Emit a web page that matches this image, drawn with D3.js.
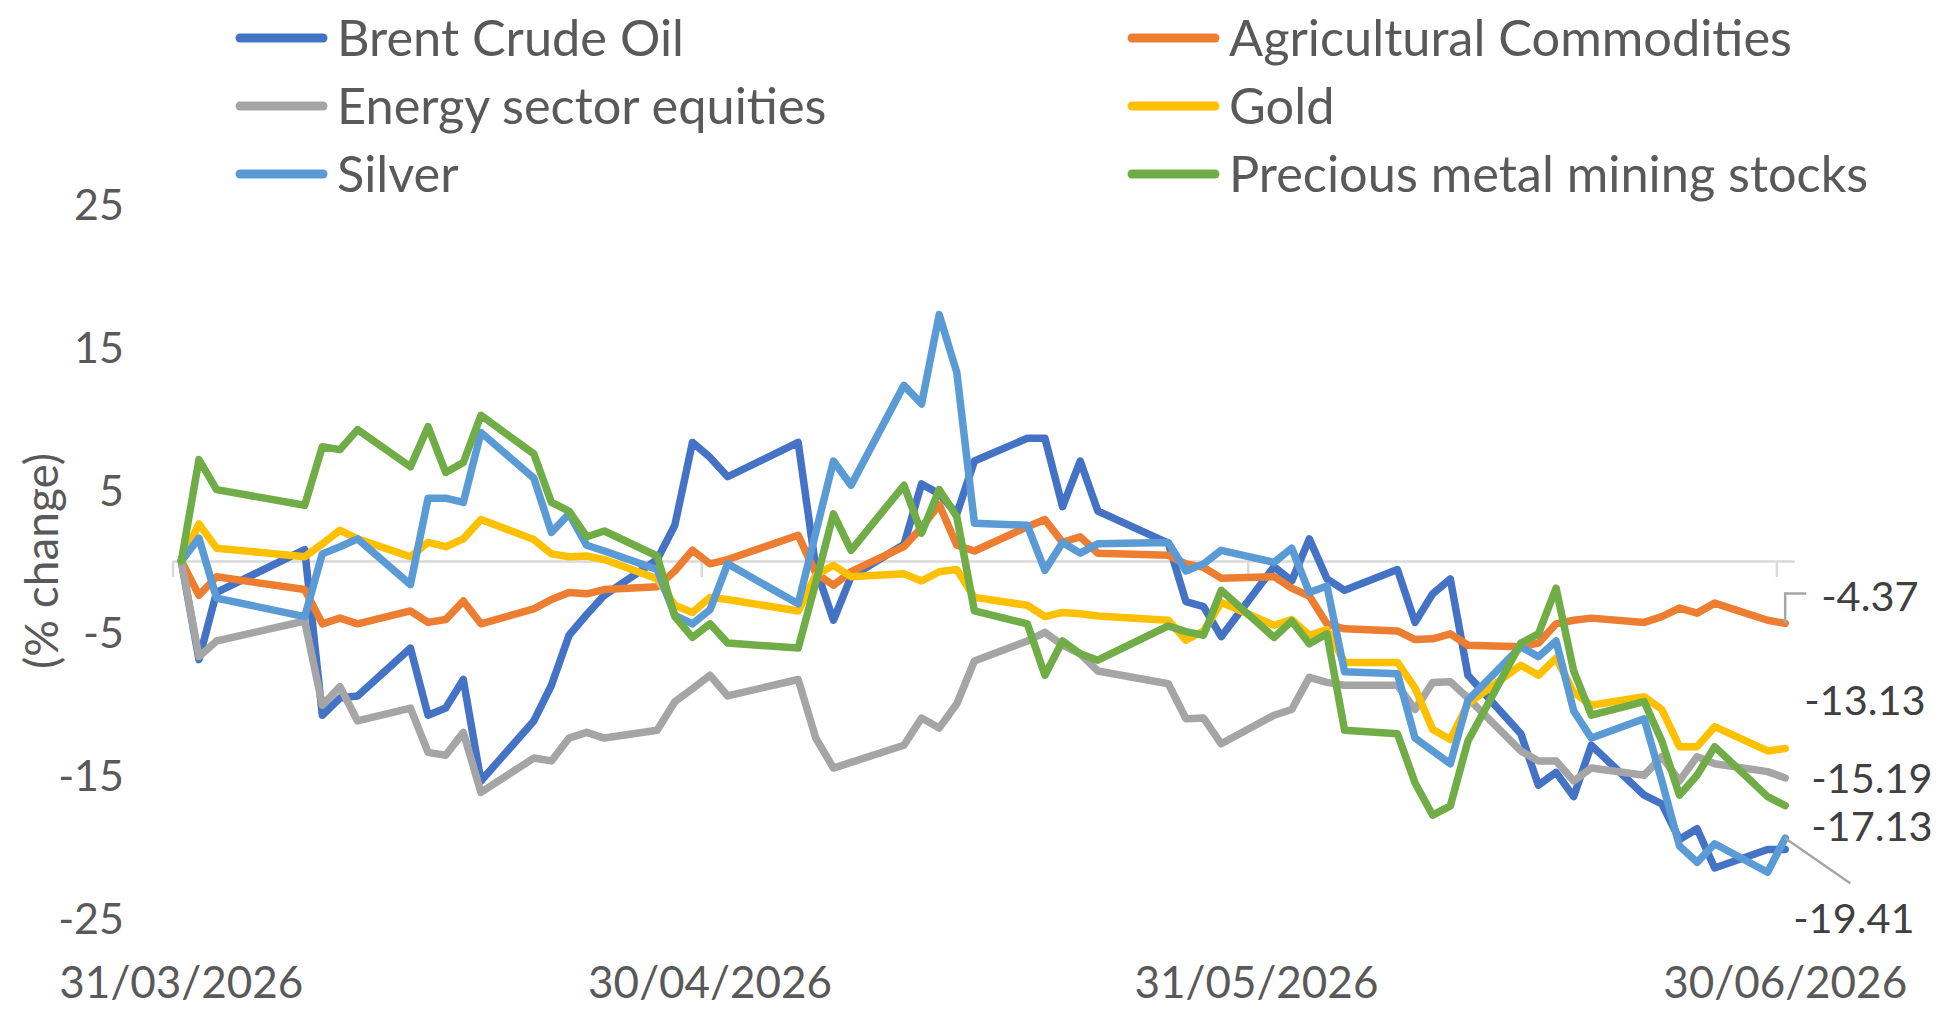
<!DOCTYPE html>
<html><head><meta charset="utf-8">
<script src="https://cdn.jsdelivr.net/npm/d3@7"></script>
<style>
html,body{margin:0;padding:0;background:#fff;}
svg{display:block;}
text{font-family:Lato,"Open Sans",sans-serif;}
</style></head><body>
<svg id="chart" width="1942" height="1031"></svg>
<script>
// ---------- DATA ----------
const dates = ["2026-03-31","2026-04-01","2026-04-02","2026-04-07","2026-04-08","2026-04-09","2026-04-10","2026-04-13","2026-04-14","2026-04-15","2026-04-16","2026-04-17",
"2026-04-20","2026-04-21","2026-04-22","2026-04-23","2026-04-24","2026-04-27","2026-04-28","2026-04-29","2026-04-30","2026-05-01",
"2026-05-05","2026-05-06","2026-05-07","2026-05-08","2026-05-11","2026-05-12","2026-05-13","2026-05-14","2026-05-15","2026-05-18","2026-05-19","2026-05-20","2026-05-21","2026-05-22",
"2026-05-26","2026-05-27","2026-05-28","2026-05-29","2026-06-01","2026-06-02","2026-06-03","2026-06-04","2026-06-05","2026-06-08","2026-06-09","2026-06-10","2026-06-11","2026-06-12",
"2026-06-15","2026-06-16","2026-06-17","2026-06-18","2026-06-19","2026-06-22","2026-06-23","2026-06-24","2026-06-25","2026-06-26","2026-06-29","2026-06-30"];

const brentCrudeOil = [0,-6.9,-2.2,0.8,-10.8,-9.6,-9.45,-6.1,-10.8,-10.3,-8.3,-15.4,
-11.2,-8.7,-5.2,-3.75,-2.4,0.1,2.5,8.3,7.25,5.9,
8.3,-0.5,-4.15,-1.1,1.15,5.4,4.7,3.3,7.0,8.6,8.6,3.8,7.0,3.5,
1.25,-2.85,-3.2,-5.3,-0.4,-1.4,1.55,-1.25,-2.05,-0.6,-4.3,-2.3,-1.25,-8.0,
-12.1,-15.7,-14.8,-16.5,-12.9,-16.4,-17.0,-19.5,-18.75,-21.5,-20.2,-20.2];

const agriculturalCommodities = [0,-2.4,-1.1,-2.0,-4.4,-4.0,-4.4,-3.5,-4.3,-4.1,-2.8,-4.4,
-3.35,-2.7,-2.2,-2.3,-2.0,-1.8,-0.7,0.75,-0.2,0.1,
1.8,-0.85,-1.7,-0.75,1.0,2.35,3.95,1.1,0.7,2.4,2.9,1.3,1.7,0.55,
0.4,-0.2,-0.45,-1.2,-1.1,-1.9,-2.45,-4.4,-4.75,-4.9,-5.5,-5.45,-5.1,-5.9,
-6.0,-5.75,-4.4,-4.15,-4.0,-4.3,-3.9,-3.3,-3.65,-2.95,-4.15,-4.37];

const energySectorEquities = [0,-6.7,-5.6,-4.2,-10.1,-8.8,-11.2,-10.3,-13.4,-13.6,-12.0,-16.2,
-13.8,-14.0,-12.4,-12.0,-12.4,-11.85,-9.85,-8.95,-8.0,-9.45,
-8.3,-12.4,-14.5,-14.1,-12.9,-11.0,-11.7,-10.0,-7.0,-5.6,-5.0,-5.9,-6.5,-7.7,
-8.6,-11.05,-11.0,-12.8,-10.8,-10.4,-8.15,-8.5,-8.7,-8.7,-10.4,-8.5,-8.45,-9.6,
-13.3,-14.0,-14.0,-15.4,-14.5,-15.0,-13.7,-15.4,-13.7,-14.2,-14.75,-15.19];

const gold = [0,2.6,0.9,0.3,1.2,2.15,1.55,0.3,1.3,1.0,1.55,2.9,
1.5,0.5,0.3,0.35,0.1,-1.25,-3.1,-3.6,-2.55,-2.7,
-3.5,-1.0,-0.3,-1.1,-0.9,-1.4,-0.75,-0.6,-2.55,-3.1,-3.9,-3.6,-3.7,-3.85,
-4.15,-5.55,-4.9,-2.9,-4.5,-4.1,-5.2,-4.8,-7.1,-7.1,-8.9,-11.8,-12.5,-10.0,
-7.3,-8.0,-6.8,-9.2,-10.1,-9.5,-10.4,-13.0,-13.0,-11.6,-13.3,-13.13];

const silver = [0,1.6,-2.6,-3.9,0.5,1.0,1.55,-1.65,4.4,4.4,4.1,9.0,
5.8,2.0,3.3,1.1,0.7,-0.6,-3.8,-4.4,-3.4,-0.2,
-3.0,2.0,7.0,5.3,12.3,11.0,17.25,13.2,2.65,2.5,-0.65,1.3,0.55,1.2,
1.3,-0.7,-0.2,0.75,-0.1,0.9,-2.2,-1.75,-7.75,-7.9,-12.4,-13.3,-14.2,-9.75,
-6.0,-6.7,-5.6,-10.5,-12.4,-11.05,-15.4,-19.95,-21.1,-19.8,-21.8,-19.41];

const preciousMetalMiningStocks = [0,7.1,5.0,3.9,8.0,7.8,9.2,6.6,9.4,6.2,6.9,10.2,
7.5,4.1,3.5,1.7,2.1,0.35,-3.9,-5.35,-4.4,-5.75,
-6.1,-1.5,3.3,0.75,5.3,1.95,5.0,3.1,-3.5,-4.4,-8.0,-5.6,-6.5,-6.95,
-4.55,-4.95,-5.2,-2.05,-5.35,-4.2,-5.8,-5.1,-11.85,-12.1,-15.55,-17.8,-17.15,-12.6,
-5.75,-5.1,-1.9,-7.7,-10.8,-9.85,-12.6,-16.4,-15.0,-13.0,-16.5,-17.13];

const seriesNames = ["Brent Crude Oil","Agricultural Commodities","Energy sector equities","Gold","Silver","Precious metal mining stocks"];
const seriesValues = [brentCrudeOil, agriculturalCommodities, energySectorEquities, gold, silver, preciousMetalMiningStocks];
const seriesColors = ["#4472C4","#ED7D31","#A5A5A5","#FFC000","#5B9BD5","#70AD47"];

const yTickValues = [-25,-15,-5,5,15,25];
const xTickDates = ["2026-03-31","2026-04-30","2026-05-31","2026-06-30"];
const yAxisTitle = "(% change)";

// ---------- LAYOUT ----------
const svg = d3.select("#chart");
const locale = d3.formatLocale({decimal: ".", thousands: ",", grouping: [3], currency: ["", ""], minus: "-"});
const parse = d3.utcParse("%Y-%m-%d");
const fmtDate = d3.utcFormat("%d/%m/%Y");
const dayStart = parse("2026-03-31");
const dayEnd = d3.utcDay.offset(parse("2026-06-30"), 1);
const x = d3.scaleUtc().domain([dayStart, dayEnd]).range([172.5, 1794]);
const y = d3.scaleLinear().domain([-25, 25]).range([918, 204]);
const mid = d => d3.utcHour.offset(parse(d), 12);

const textColor = "#595959";
const FONT_TICK = 43, FONT_DATE = 44, FONT_LEG = 50.5, FONT_LBL = 41.5, FONT_TITLE = 46;

// x axis at zero
const xAxis = d3.axisBottom(x)
  .tickValues(xTickDates.map(parse))
  .tickSize(16).tickSizeOuter(0).tickFormat("");
const gx = svg.append("g").attr("transform", `translate(0,${y(0)})`).call(xAxis);
gx.select(".domain").attr("stroke", "#D9D9D9").attr("stroke-width", 2.5);
gx.selectAll(".tick line").attr("stroke", "#D9D9D9").attr("stroke-width", 2.5);

// x tick labels at bottom
svg.append("g").selectAll("text").data(xTickDates).join("text")
  .attr("x", d => x(mid(d))).attr("y", 982).attr("dy", "0.36em")
  .attr("text-anchor", "middle").attr("fill", textColor)
  .style("font-size", FONT_DATE + "px").text(d => fmtDate(parse(d)));

// y axis labels
const yAxis = d3.axisLeft(y).tickValues(yTickValues).tickSize(0).tickPadding(0).tickFormat(locale.format("d"));
const gy = svg.append("g").attr("transform", "translate(124,0)").call(yAxis);
gy.select(".domain").remove();
gy.selectAll(".tick text").attr("fill", textColor).attr("dy", "0.36em")
  .style("font-size", FONT_TICK + "px").style("font-family", "Lato,'Open Sans',sans-serif");

// y axis title
svg.append("text").attr("transform", `translate(41,${y(0)}) rotate(-90)`)
  .attr("text-anchor", "middle").attr("dy", "0.36em").attr("fill", textColor)
  .style("font-size", FONT_TITLE + "px").text(yAxisTitle);

// series lines
const line = d3.line().x(d => x(d.date)).y(d => y(d.v));
seriesValues.forEach((vals, i) => {
  const pts = vals.map((v, j) => ({date: mid(dates[j]), v}));
  svg.append("path").datum(pts).attr("d", line)
    .attr("fill", "none").attr("stroke", seriesColors[i]).attr("stroke-width", 7.5)
    .attr("stroke-linejoin", "round").attr("stroke-linecap", "round");
});

// data labels (end values)
const lastDate = mid(dates[dates.length - 1]);
const labelSpec = [
  {s: 1, dx: 36, dy: -27},
  {s: 3, dx: 19, dy: -48},
  {s: 2, dx: 26, dy: 0},
  {s: 5, dx: 26, dy: 20},
  {s: 4, dx: 8, dy: 80}
];
const fmtVal = locale.format(".2f");
labelSpec.forEach(l => {
  const v = seriesValues[l.s][seriesValues[l.s].length - 1];
  const px = x(lastDate), py = y(v);
  svg.append("text").attr("x", px + l.dx).attr("y", py + l.dy).attr("dy", "0.36em")
    .attr("fill", "#404040").style("font-size", FONT_LBL + "px").text(fmtVal(v));
});
// leader lines
{
  const pA = [x(lastDate), y(agriculturalCommodities[agriculturalCommodities.length-1])];
  svg.append("path").attr("d", `M${pA[0]},${pA[1]} V${pA[1]-30} H${pA[0]+21}`)
    .attr("fill", "none").attr("stroke", "#A6A6A6").attr("stroke-width", 2.5);
  const pS = [x(lastDate), y(silver[silver.length-1])];
  svg.append("path").attr("d", `M${pS[0]},${pS[1]} L${pS[0]+65},${pS[1]+45}`)
    .attr("fill", "none").attr("stroke", "#A6A6A6").attr("stroke-width", 2.5);
}

// legend
const legCols = [235, 1127], legRows = [38, 106, 174];
const legPos = [[0,0],[1,0],[0,1],[1,1],[0,2],[1,2]];
seriesNames.forEach((n, i) => {
  const [c, r] = legPos[i];
  const lx = legCols[c], ly = legRows[r];
  const g = svg.append("g");
  g.append("line").attr("x1", lx + 5).attr("x2", lx + 88).attr("y1", ly).attr("y2", ly)
    .attr("stroke", seriesColors[i]).attr("stroke-width", 9).attr("stroke-linecap", "round");
  g.append("text").attr("x", lx + 102).attr("y", ly).attr("dy", "0.36em")
    .attr("fill", textColor).style("font-size", FONT_LEG + "px").text(n);
});
</script>
</body></html>
